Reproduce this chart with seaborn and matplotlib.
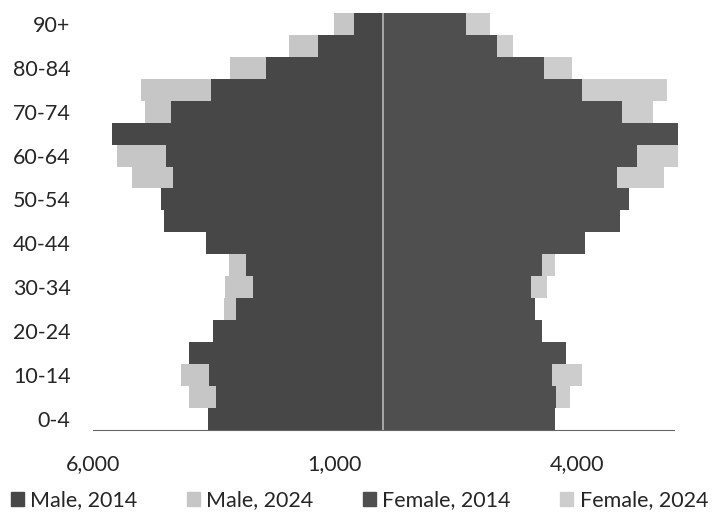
import matplotlib
matplotlib.use("Agg")
import matplotlib.pyplot as plt
from matplotlib.patches import Patch
import seaborn as sns

# ------------------------------
# DATA (age groups bottom -> top)
# ------------------------------
ages = ["0-4", "5-9", "10-14", "15-19", "20-24", "25-29", "30-34", "35-39",
        "40-44", "45-49", "50-54", "55-59", "60-64", "65-69", "70-74",
        "75-79", "80-84", "85-89", "90+"]

male_2014 = [3620, 3460, 3600, 4020, 3520, 3040, 2690, 2840, 3670, 4530,
             4600, 4350, 4490, 5610, 4390, 3560, 2420, 1350, 600]
male_2024 = [3500, 4020, 4180, 3500, 3300, 3290, 3270, 3190, 3000, 3700,
             4400, 5180, 5490, 4400, 4930, 5010, 3170, 1950, 1010]
female_2014 = [3540, 3560, 3480, 3770, 3270, 3130, 3060, 3270, 4160, 4890,
               5070, 4820, 5240, 6090, 4930, 4100, 3330, 2340, 1700]
female_2024 = [3400, 3850, 4100, 3500, 3100, 3000, 3380, 3540, 3400, 4200,
               4900, 5800, 6090, 5100, 5570, 5860, 3890, 2690, 2200]

xticks = [-6000, -1000, 4000]
xtick_labels = ["6,000", "1,000", "4,000"]

c_male14 = "#474747"
c_male24 = "#c6c6c6"
c_fem14 = "#4f4f4f"
c_fem24 = "#cdcdcd"

# ------------------------------
# PLOT
# ------------------------------
sns.set_style("white")
plt.rcParams["font.family"] = ["Lato", "DejaVu Sans"]

fig = plt.figure(figsize=(7.19, 5.12), dpi=100)
ax = fig.add_axes([0.129, 0.160, 0.808, 0.815])

order = ages[::-1]

# 2024 behind, 2014 on top
sns.barplot(x=[-v for v in male_2024], y=ages, order=order, orient="h",
            color=c_male24, width=1.0, saturation=1, ax=ax)
sns.barplot(x=female_2024, y=ages, order=order, orient="h",
            color=c_fem24, width=1.0, saturation=1, ax=ax)
sns.barplot(x=[-v for v in male_2014], y=ages, order=order, orient="h",
            color=c_male14, width=1.0, saturation=1, ax=ax)
sns.barplot(x=female_2014, y=ages, order=order, orient="h",
            color=c_fem14, width=1.0, saturation=1, ax=ax)

for p in ax.patches:
    p.set_linewidth(0)
    p.set_clip_on(False)

ax.axvline(0, color="#a8a8a8", lw=1.4, zorder=5)

ax.set_xlim(-6000, 6000)
ax.set_ylim(len(ages) - 0.5, -0.5)
ax.set_xticks(xticks)
ax.set_xticklabels(xtick_labels)

# show every other age label
ax.set_yticks([order.index(a) for a in ages[::2]])
ax.set_yticklabels(ages[::2])

ax.set_xlabel("")
ax.set_ylabel("")
for s in ["top", "right", "left"]:
    ax.spines[s].set_visible(False)
ax.spines["bottom"].set_color("#666666")
ax.spines["bottom"].set_linewidth(0.8)
ax.spines["bottom"].set_zorder(6)

ax.tick_params(axis="x", length=4, color="#666666", pad=13, labelsize=15.5)
ax.tick_params(axis="y", length=0, pad=16, labelsize=15.5)

handles = [Patch(color=c_male14, label="Male, 2014"),
           Patch(color=c_male24, label="Male, 2024"),
           Patch(color=c_fem14, label="Female, 2014"),
           Patch(color=c_fem24, label="Female, 2024")]
fig.legend(handles=handles, loc="lower center", bbox_to_anchor=(0.5, -0.035),
           ncol=4, frameon=False, fontsize=15.5, handlelength=0.6,
           handleheight=0.6, handletextpad=0.3, columnspacing=2.3)

fig.savefig("out.png", dpi=100)
